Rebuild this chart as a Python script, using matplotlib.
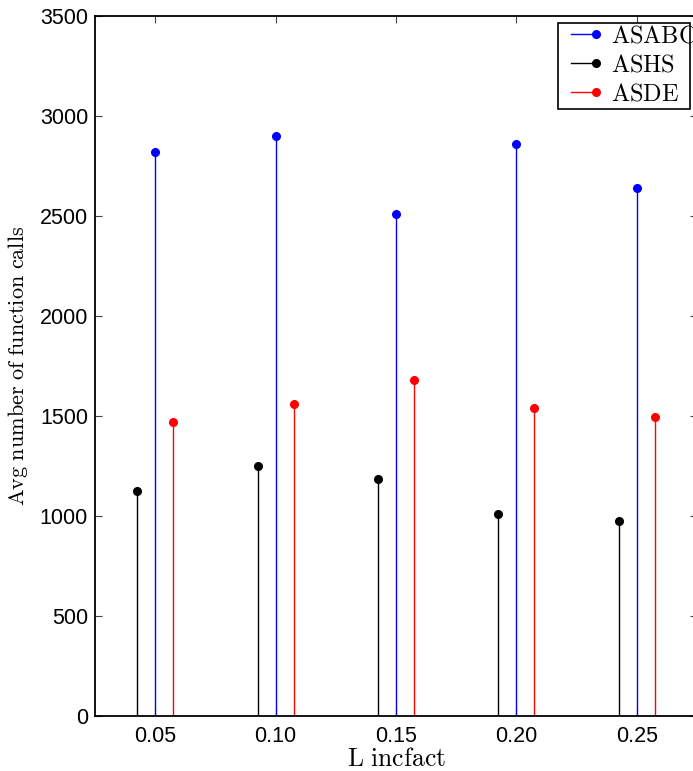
import numpy as np
import matplotlib
matplotlib.use('Agg')
import matplotlib.pyplot as plt
from matplotlib.lines import Line2D
from matplotlib.patches import Rectangle
from matplotlib.legend_handler import HandlerLine2D

plt.rcParams['mathtext.fontset'] = 'cm'
plt.rcParams['font.family'] = ['Liberation Sans', 'DejaVu Sans']

# data
L_incfact = np.array([0.05, 0.10, 0.15, 0.20, 0.25])
asabc = [2820, 2900, 2510, 2860, 2640]
ashs = [1125, 1250, 1185, 1010, 975]
asde = [1470, 1560, 1680, 1540, 1495]
offset = 0.0075

series = [
    ('ASABC', L_incfact, asabc, 'blue'),
    ('ASHS', L_incfact - offset, ashs, 'black'),
    ('ASDE', L_incfact + offset, asde, 'red'),
]


class MarkerAtEnd(HandlerLine2D):
    # matlab style legend entry: short line, marker at its right end
    def create_artists(self, legend, orig_handle, xdescent, ydescent,
                       width, height, fontsize, trans):
        arts = super().create_artists(legend, orig_handle, xdescent, ydescent,
                                      width, height, fontsize, trans)
        for a in arts:
            n = len(a.get_xdata())
            a.set_markevery([n - 1])
        return arts


fig = plt.figure(figsize=(6.93, 7.71), dpi=100)
W, H = 693.0, 771.0
ax = fig.add_axes([95 / W, 1 - 716 / H, (697 - 95) / W, (716 - 16) / H])

handles = []
for name, x, y, c in series:
    m, s, b = ax.stem(x, y, linefmt='-', markerfmt='o', basefmt=' ')
    s.set_color(c)
    s.set_linewidth(1.0)
    m.set_color(c)
    m.set_markersize(5.5)
    m.set_zorder(3)
    handles.append(Line2D([0, 1], [0, 0], color=c, lw=1.0, marker='o',
                          markersize=5.5, label=r'$\mathrm{%s}$' % name))

ax.set_xlim(0.025, 0.275)
ax.set_ylim(0, 3500)
ax.set_xticks(L_incfact)
ax.set_xticklabels(['%.2f' % v for v in L_incfact])
ax.set_yticks(np.arange(0, 3501, 500))
ax.tick_params(direction='in', length=5, width=0.8, labelsize=15.5, pad=5,
               top=True, right=True, color='#444444')
ax.tick_params(axis='x', pad=7)
for sp in ax.spines.values():
    sp.set_linewidth(1.3)

ax.set_xlabel(r'$\mathrm{L\ incfact}$', fontsize=18.5, labelpad=0)
ax.set_ylabel(r'$\mathrm{Avg\ number\ of\ function\ calls}$', fontsize=16, labelpad=7)

# legend frame drawn separately so the long label can run past it like matlab
fig.patches.append(Rectangle((558 / W, 1 - 109 / H), (690 - 558) / W, (109 - 23) / H,
                             transform=fig.transFigure, fill=True, facecolor='white',
                             edgecolor='black', lw=1.2, zorder=5))
leg = fig.legend(handles=handles, loc='upper left',
                 bbox_to_anchor=(564 / W, 1 - 25 / H),
                 handler_map={Line2D: MarkerAtEnd()},
                 numpoints=2, fontsize=17.5, frameon=False,
                 borderpad=0, labelspacing=0.3,
                 handlelength=1.6, handletextpad=0.35, borderaxespad=0)
leg.set_zorder(6)

fig.savefig('out.png', dpi=100)
